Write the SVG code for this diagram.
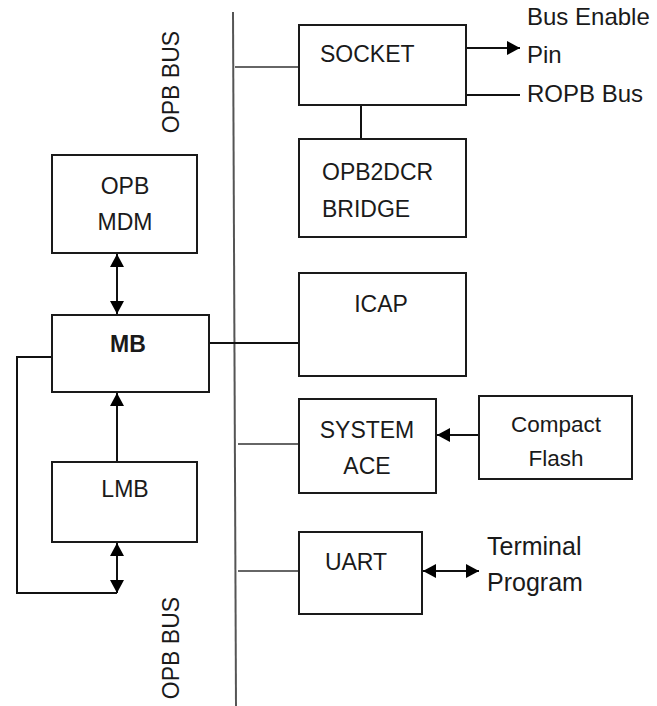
<svg xmlns="http://www.w3.org/2000/svg" width="657" height="706" viewBox="0 0 657 706">
  <style>
    .box { fill: #fff; stroke: #1a1a1a; stroke-width: 2; }
    .wire { fill: none; stroke: #111; stroke-width: 2; }
    .bus { fill: none; stroke: #555; stroke-width: 2; }
    .tap { fill: none; stroke: #666; stroke-width: 2; }
    text { font-family: "Liberation Sans", Arial, sans-serif; font-size: 23px; fill: #1a1a1a; }
    .mid { text-anchor: middle; }
    .bold { font-weight: bold; }
  </style>
  <defs>
    <marker id="head" markerUnits="userSpaceOnUse" markerWidth="14" markerHeight="14" refX="13" refY="7" orient="auto-start-reverse">
      <path d="M0,0 L13,7 L0,14 z" fill="#000"/>
    </marker>
  </defs>

  <!-- OPB bus backbone and its taps -->
  <g id="connectors">
    <path class="bus" d="M233,12 L236,706"/>
    <path class="tap" d="M235,67 H299"/>
    <path class="tap" d="M238,444 H299"/>
    <path class="tap" d="M238,571 H299"/>
    <path class="wire" d="M209,343 H299"/>
    <path class="wire" d="M117,254 V314" marker-start="url(#head)" marker-end="url(#head)"/>
    <path class="wire" d="M117,462 V393" marker-end="url(#head)"/>
    <path class="wire" d="M117,543 V593" marker-start="url(#head)" marker-end="url(#head)"/>
    <path class="wire" d="M52,357 H17 V593 H117"/>
    <path class="wire" d="M466,48 H520" marker-end="url(#head)"/>
    <path class="wire" d="M466,95 H520"/>
    <path class="wire" d="M361,105 V139"/>
    <path class="wire" d="M479,435 H437" marker-end="url(#head)"/>
    <path class="wire" d="M423,571 H479" marker-start="url(#head)" marker-end="url(#head)"/>
  </g>

  <g id="bus-labels">
    <text class="mid" transform="translate(179,82) rotate(-90)">OPB BUS</text>
    <text class="mid" transform="translate(179,648) rotate(-90)">OPB BUS</text>
  </g>

  <g id="opb-mdm">
    <rect class="box" x="52" y="155" width="145" height="98"/>
    <text class="mid" x="125" y="194">OPB</text>
    <text class="mid" x="125" y="230">MDM</text>
  </g>

  <g id="mb">
    <rect class="box" x="52" y="315" width="157" height="77"/>
    <text class="mid bold" x="128" y="352">MB</text>
  </g>

  <g id="lmb">
    <rect class="box" x="52" y="462" width="145" height="80"/>
    <text class="mid" x="125" y="497">LMB</text>
  </g>

  <g id="socket">
    <rect class="box" x="299" y="25" width="167" height="80"/>
    <text x="320" y="62">SOCKET</text>
  </g>

  <g id="socket-outputs">
    <text x="527" y="25" style="font-size:24px">Bus Enable</text>
    <text x="527" y="63" style="font-size:24px">Pin</text>
    <text x="527" y="102" style="font-size:24px">ROPB Bus</text>
  </g>

  <g id="opb2dcr">
    <rect class="box" x="299" y="139" width="167" height="98"/>
    <text x="322" y="180">OPB2DCR</text>
    <text x="322" y="217">BRIDGE</text>
  </g>

  <g id="icap">
    <rect class="box" x="299" y="273" width="167" height="103"/>
    <text class="mid" x="381" y="312">ICAP</text>
  </g>

  <g id="system-ace">
    <rect class="box" x="299" y="399" width="137" height="94"/>
    <text class="mid" x="367" y="438">SYSTEM</text>
    <text class="mid" x="367" y="474">ACE</text>
  </g>

  <g id="compact-flash">
    <rect class="box" x="479" y="396" width="153" height="83"/>
    <text class="mid" x="556" y="432" style="font-size:22.5px">Compact</text>
    <text class="mid" x="556" y="466" style="font-size:22.5px">Flash</text>
  </g>

  <g id="uart">
    <rect class="box" x="299" y="532" width="123" height="82"/>
    <text class="mid" x="356" y="570">UART</text>
  </g>

  <g id="terminal">
    <text x="487" y="555" style="font-size:25px">Terminal</text>
    <text x="487" y="591" style="font-size:25px">Program</text>
  </g>
</svg>
